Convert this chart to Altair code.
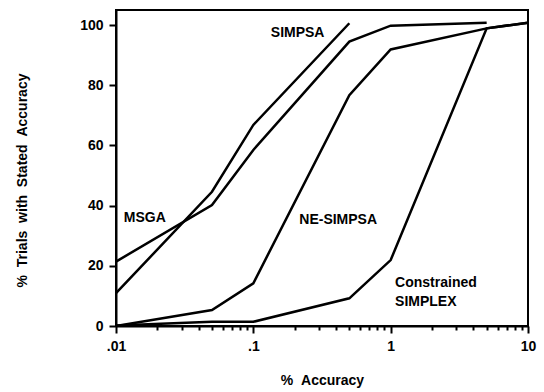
import altair as alt
import pandas as pd

# ---- data ----
x_vals = [0.01, 0.05, 0.1, 0.5, 1, 5, 10]
simpsa = [10.9, 44.6, 66.8, 100.6]
msga = [21.4, 40.2, 58.5, 94.5, 99.8, 100.8]
ne_simpsa = [0.0, 5.3, 14.2, 76.7, 91.9, 98.9, 100.8]
constrained = [0.2, 1.4, 1.4, 9.2, 21.9, 98.9, 100.8]

series_names = ["SIMPSA", "MSGA", "NE-SIMPSA", "Constrained SIMPLEX"]
series_values = [simpsa, msga, ne_simpsa, constrained]

label_text = ["SIMPSA", "MSGA", "NE-SIMPSA", "Constrained", "SIMPLEX"]
label_x = [0.134, 0.0114, 0.216, 1.077, 1.077]
label_y = [97.2, 35.8, 35.2, 14.2, 8.1]

x_ticks = [0.01, 0.02, 0.03, 0.04, 0.05, 0.06, 0.07, 0.08, 0.09,
           0.1, 0.2, 0.3, 0.4, 0.5, 0.6, 0.7, 0.8, 0.9,
           1, 2, 3, 4, 5, 6, 7, 8, 9, 10]
y_ticks = [0, 10, 20, 30, 40, 50, 60, 70, 80, 90, 100]

rows = []
for name, ys in zip(series_names, series_values):
    for i, y in enumerate(ys):
        rows.append({"series": name, "x": x_vals[i], "y": y, "order": i})
df = pd.DataFrame(rows)
labels_df = pd.DataFrame({"text": label_text, "x": label_x, "y": label_y})

FONT = "Liberation Sans"

x_major = "abs(log(datum.value)/LN10 - round(log(datum.value)/LN10)) < 0.001"
x_label_expr = (
    "datum.value > 0.0099 && datum.value < 0.0101 ? '.01' : "
    "(datum.value > 0.099 && datum.value < 0.101 ? '.1' : "
    "(datum.value > 0.99 && datum.value < 1.01 ? '1' : "
    "(datum.value > 9.9 && datum.value < 10.1 ? '10' : '')))"
)

x_enc = alt.X(
    "x:Q",
    scale=alt.Scale(type="log", domain=[0.01, 10], nice=False),
    axis=alt.Axis(
        values=x_ticks,
        labelExpr=x_label_expr,
        title="%\u00a0\u00a0Accuracy",
        tickSize={"condition": {"test": x_major, "value": 7}, "value": 4},
        tickWidth=2,
        tickColor="black",
        domainColor="black",
        domainWidth=2,
        labelFlush=False,
        labelOverlap=False,
        labelPadding=6,
        labelFontSize=14,
        labelFontWeight="bold",
        labelColor="black",
        labelFont=FONT,
        titleFont=FONT,
        titleFontSize=14,
        titleFontWeight="bold",
        titleColor="black",
        titleBaseline="middle",
        titleY=54,
        grid=False,
    ),
)

y_enc = alt.Y(
    "y:Q",
    scale=alt.Scale(domain=[0, 105], nice=False),
    axis=alt.Axis(
        values=y_ticks,
        labelExpr="datum.value % 20 == 0 ? datum.label : ''",
        title="%\u00a0\u00a0Trials\u00a0\u00a0with\u00a0\u00a0Stated\u00a0\u00a0Accuracy",
        tickSize={"condition": {"test": "datum.value % 20 == 0", "value": 7}, "value": 4},
        tickWidth=2,
        tickColor="black",
        domainColor="black",
        domainWidth=2,
        labelOverlap=False,
        labelPadding=6,
        labelFontSize=14,
        labelFontWeight="bold",
        labelColor="black",
        labelFont=FONT,
        titleFont=FONT,
        titleFontSize=14,
        titleFontWeight="bold",
        titleColor="black",
        titleBaseline="middle",
        titleX=-94,
        titleY=170,
        grid=False,
    ),
)

lines = alt.Chart(df).mark_line(color="black", strokeWidth=2.5).encode(
    x=x_enc,
    y=y_enc,
    detail="series:N",
    order="order:Q",
)

labels = alt.Chart(labels_df).mark_text(
    align="left", baseline="middle", font=FONT, fontSize=14,
    fontWeight="bold", color="black"
).encode(
    x=alt.X("x:Q"),
    y=alt.Y("y:Q"),
    text="text:N",
)

chart = alt.layer(lines, labels).properties(
    width=412,
    height=316,
    autosize=alt.AutoSizeParams(type="none"),
    padding={"left": 116, "top": 10, "right": 16, "bottom": 66},
    background="white",
).configure_view(stroke="black", strokeWidth=2)

chart.save("out.html", embed_options={"renderer": "svg", "actions": False})
